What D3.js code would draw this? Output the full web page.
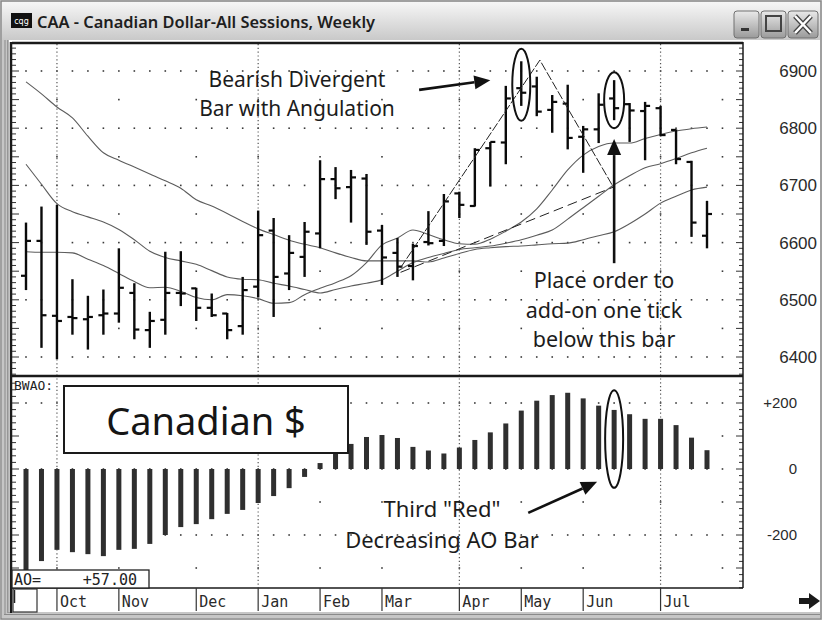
<!DOCTYPE html>
<html>
<head>
<meta charset="utf-8">
<script src="https://cdn.jsdelivr.net/npm/d3@7"></script>
<style>
  body { margin: 0; background: #fff; }
  svg { display: block; }
</style>
</head>
<body>
<div id="chart"></div>
<script>
// weekly OHLC (45 weeks, Sep .. Jul)
var openP  = [6542,6603,6472,6470,6466,6473,6476,6512,6447,6465,6512,6520,6486,6476,6454,6523,6621,6546,6575,6616,6711,6697,6712,6621,6582,6559,6601,6603,6686,6664,6765,6775,6870,6873,6832,6843,6785,6798,6852,6842,6830,6835,6797,6741,6612];
var highP  = [6635,6663,6666,6536,6507,6518,6590,6529,6479,6584,6585,6521,6511,6477,6540,6656,6643,6613,6636,6744,6732,6727,6720,6631,6608,6598,6655,6685,6689,6765,6776,6874,6917,6890,6858,6876,6804,6861,6884,6844,6846,6839,6798,6743,6673];
var lowP   = [6517,6416,6396,6439,6413,6439,6460,6431,6416,6439,6489,6463,6470,6431,6439,6504,6470,6517,6540,6590,6676,6635,6596,6526,6540,6534,6595,6594,6643,6663,6698,6737,6839,6821,6792,6763,6722,6774,6814,6776,6744,6786,6737,6610,6590];
var closeP = [6603,6473,6463,6468,6470,6476,6521,6448,6463,6512,6511,6486,6473,6447,6517,6613,6540,6582,6619,6711,6695,6714,6619,6574,6558,6594,6599,6672,6666,6762,6776,6852,6862,6829,6846,6783,6798,6841,6835,6831,6839,6788,6746,6635,6650];

// alligator lines
var jaw   = [6881,6860,6837,6818,6786,6757,6744,6732,6720,6708,6695,6675,6664,6651,6637,6624,6614,6604,6597,6591,6582,6574,6568,6568,6568,6568,6566,6573,6581,6588,6591,6593,6594,6596,6598,6599,6605,6612,6619,6633,6650,6669,6681,6692,6697];
var teeth = [6737,6702,6668,6654,6645,6636,6623,6605,6585,6574,6568,6562,6551,6540,6536,6535,6529,6524,6518,6512,6518,6524,6529,6535,6550,6565,6574,6581,6588,6591,6594,6599,6605,6613,6622,6641,6661,6681,6701,6717,6731,6738,6747,6757,6765];
var lips  = [6584,6583,6583,6582,6571,6560,6546,6532,6521,6522,6515,6504,6500,6509,6507,6502,6494,6495,6509,6520,6530,6542,6565,6596,6608,6622,6614,6605,6598,6597,6606,6620,6636,6659,6692,6727,6753,6768,6774,6774,6782,6789,6795,6799,6802];

// awesome oscillator
var aoValues = [-330,-279,-245,-252,-258,-264,-245,-242,-227,-200,-176,-167,-152,-136,-124,-103,-82,-58,-24,18,52,76,97,103,94,67,56,47,65,88,111,138,177,207,224,231,214,192,179,166,152,152,133,95,57];

var monthLabels = ["Oct","Nov","Dec","Jan","Feb","Mar","Apr","May","Jun","Jul"];
var monthWeeks  = [2,6,11,15,19,23,28,32,36,41];
var quarterMonths = ["Oct","Jan","Apr","Jul"];

var priceTicks = [6400,6500,6600,6700,6800,6900];
var priceHalfTicks = [6450,6550,6650,6750,6850];
var aoTicks = [200,0,-200];
var aoTickLabels = ["+200","0","-200"];
var aoHalfTicks = [100,-100,-300];

var W = 822, H = 620;
var left = 12, right = 743,
    pTop = 44, pBottom = 375,
    aTop = 377, aBottom = 588;

var svg = d3.select("#chart").append("svg")
            .attr("width", W)
            .attr("height", H)
            .style("font-family", "'Noto Sans', 'DejaVu Sans', sans-serif");

var defs = svg.append("defs");
var tg = defs.append("linearGradient").attr("id","titleGrad")
             .attr("x1",0).attr("y1",0).attr("x2",0).attr("y2",1);
tg.append("stop").attr("offset","0%").attr("stop-color","#f6f6f6");
tg.append("stop").attr("offset","100%").attr("stop-color","#c9c9c9");
var bg = defs.append("linearGradient").attr("id","btnGrad")
             .attr("x1",0).attr("y1",0).attr("x2",0).attr("y2",1);
bg.append("stop").attr("offset","0%").attr("stop-color","#e9e9e9");
bg.append("stop").attr("offset","100%").attr("stop-color","#9a9a9a");

defs.append("clipPath").attr("id","clipPrice")
    .append("rect").attr("x",left).attr("y",pTop).attr("width",right-left).attr("height",pBottom-pTop);
defs.append("clipPath").attr("id","clipAO")
    .append("rect").attr("x",left).attr("y",aTop).attr("width",right-left).attr("height",aBottom-aTop);

// ---- window chrome ----
svg.append("rect").attr("width",W).attr("height",H).attr("fill","#c6c6c6");
svg.append("rect").attr("x",1).attr("y",1).attr("width",W-2).attr("height",H-2)
   .attr("fill","none").attr("stroke","#7a7a7a");
svg.append("rect").attr("x",2).attr("y",2).attr("width",W-4).attr("height",38).attr("fill","url(#titleGrad)");
svg.append("rect").attr("x",8).attr("y",40).attr("width",W-10).attr("height",572).attr("fill","#fff");
svg.append("line").attr("x1",5).attr("x2",5).attr("y1",40).attr("y2",614).attr("stroke","#8a8a8a");
svg.append("line").attr("x1",4).attr("x2",W-2).attr("y1",614.5).attr("y2",614.5).attr("stroke","#8a8a8a");

// title icon + text
svg.append("rect").attr("x",11).attr("y",13).attr("width",21).attr("height",15).attr("fill","#111");
svg.append("text").attr("x",21.5).attr("y",24).attr("text-anchor","middle")
   .attr("fill","#fff").style("font-size","8px").style("font-family","'DejaVu Sans', sans-serif").text("cqg");
svg.append("text").attr("x",37).attr("y",28)
   .attr("fill","#1e1e1e").style("font-size","16.4px").style("font-weight","600")
   .text("CAA - Canadian Dollar-All Sessions, Weekly");

// window buttons
var buttons = [{x:734, w:25}, {x:761, w:25}, {x:788, w:30}];
svg.selectAll("rect.btn").data(buttons).enter().append("rect")
   .attr("class","btn")
   .attr("x", function(d){ return d.x; }).attr("y", 11)
   .attr("width", function(d){ return d.w; }).attr("height", 27)
   .attr("rx", 3).attr("fill","url(#btnGrad)").attr("stroke","#707070");
svg.append("rect").attr("x",741).attr("y",28).attr("width",8).attr("height",3).attr("fill","#333");
svg.append("rect").attr("x",766).attr("y",16).attr("width",15).attr("height",15)
   .attr("fill","none").attr("stroke","#444").attr("stroke-width",2);
svg.append("path").attr("d","M795,16 L811,33 M811,16 L795,33")
   .attr("stroke","#444").attr("stroke-width",5);
svg.append("path").attr("d","M795,16 L811,33 M811,16 L795,33")
   .attr("stroke","#fff").attr("stroke-width",2.5);

// ---- scales ----
var x = d3.scaleLinear().domain([0,44]).range([26,707]);
var y = d3.scaleLinear().domain([6400,6900]).range([357,71]);
var yAO = d3.scaleLinear().domain([-200,200]).range([535,403]);

var cols = d3.range(46);   // grid dot columns, one per week slot

var quarterWeeks = monthWeeks.filter(function(w, i){ return quarterMonths.indexOf(monthLabels[i]) >= 0; });
var sparseCols = monthWeeks.concat([45]);

// ---- grid ----
var grid = svg.append("g").attr("fill","#3a3a3a");
function dotRow(levels, scale, columns){
  levels.forEach(function(v){
    grid.selectAll(null).data(columns).enter().append("rect")
        .attr("x", function(i){ return x(i) - 0.8; })
        .attr("y", scale(v) - 0.8)
        .attr("width", 1.6).attr("height", 1.6);
  });
}
dotRow(priceTicks, y, cols);
dotRow(priceHalfTicks, y, sparseCols);
dotRow(aoTicks, yAO, cols);
dotRow(aoHalfTicks, yAO, sparseCols);

svg.append("g").selectAll("line").data(quarterWeeks).enter().append("line")
   .attr("x1", function(w){ return x(w); }).attr("x2", function(w){ return x(w); })
   .attr("y1", pTop).attr("y2", aBottom)
   .attr("stroke","#555").attr("stroke-width",1.2).attr("stroke-dasharray","1.2,2.6");

// ---- axis tick marks on both edges ----
var ticks = svg.append("g").attr("stroke","#333").attr("stroke-width",1);
var pMinor = d3.range(6370, 6950, 10);
var aMinor = d3.range(-360, 280, 20);
[left, right].forEach(function(edge){
  var dir = edge === left ? 1 : -1;
  ticks.selectAll(null).data(pMinor).enter().append("line")
       .attr("x1", edge).attr("x2", function(v){ return edge + dir * (v % 50 === 0 ? 7 : 4); })
       .attr("y1", function(v){ return y(v); }).attr("y2", function(v){ return y(v); });
  ticks.selectAll(null).data(aMinor).enter().append("line")
       .attr("x1", edge).attr("x2", function(v){ return edge + dir * (v % 100 === 0 ? 7 : 4); })
       .attr("y1", function(v){ return yAO(v); }).attr("y2", function(v){ return yAO(v); });
});

// ---- price panel ----
var pricePanel = svg.append("g").attr("clip-path","url(#clipPrice)");

var maLine = d3.line()
               .x(function(d, i){ return x(i); })
               .y(function(d){ return y(d); })
               .curve(d3.curveMonotoneX);

pricePanel.selectAll("path.ma").data([jaw, teeth, lips]).enter().append("path")
          .attr("class","ma")
          .attr("d", maLine)
          .attr("fill","none").attr("stroke","#5c5c5c").attr("stroke-width",1.1);

var bars = openP.map(function(o, i){
  return {i: i, o: o, h: highP[i], l: lowP[i], c: closeP[i]};
});

var barG = pricePanel.selectAll("g.bar").data(bars).enter().append("g")
                     .attr("class","bar").attr("stroke","#0a0a0a");
barG.append("line")
    .attr("x1", function(d){ return x(d.i); }).attr("x2", function(d){ return x(d.i); })
    .attr("y1", function(d){ return y(d.h); }).attr("y2", function(d){ return y(d.l); })
    .attr("stroke-width", 2.4);
barG.append("line")
    .attr("x1", function(d){ return x(d.i) - 5; }).attr("x2", function(d){ return x(d.i); })
    .attr("y1", function(d){ return y(d.o); }).attr("y2", function(d){ return y(d.o); })
    .attr("stroke-width", 2.2);
barG.append("line")
    .attr("x1", function(d){ return x(d.i); }).attr("x2", function(d){ return x(d.i) + 5; })
    .attr("y1", function(d){ return y(d.c); }).attr("y2", function(d){ return y(d.c); })
    .attr("stroke-width", 2.2);

// angulation lines
var angStart = {w: 24.2, p: 6556}, angTop = {w: 33.2, p: 6919}, angEnd = {w: 37.95, p: 6697};
pricePanel.append("path")
   .attr("d", "M" + x(angStart.w) + "," + y(angStart.p) + "L" + x(angTop.w) + "," + y(angTop.p) +
              "L" + x(angEnd.w) + "," + y(angEnd.p))
   .attr("fill","none").attr("stroke","#222").attr("stroke-width",1).attr("stroke-dasharray","9,2");
pricePanel.append("path")
   .attr("d", "M" + x(angStart.w) + "," + y(angStart.p - 8) + "L" + x(angEnd.w) + "," + y(angEnd.p))
   .attr("fill","none").attr("stroke","#222").attr("stroke-width",1).attr("stroke-dasharray","10,5");

// ---- AO panel ----
var aoPanel = svg.append("g").attr("clip-path","url(#clipAO)");
aoPanel.selectAll("rect.ao").data(aoValues).enter().append("rect")
       .attr("class","ao")
       .attr("x", function(d, i){ return x(i) - 2.5; })
       .attr("width", 5)
       .attr("y", function(d){ return yAO(Math.max(d, 0)); })
       .attr("height", function(d){ return Math.abs(yAO(d) - yAO(0)); })
       .attr("fill","#2f2f2f");

// ---- frames ----
var frame = svg.append("g").attr("fill","none").attr("stroke","#1a1a1a");
frame.append("line").attr("x1",left).attr("x2",right).attr("y1",pTop - 1).attr("y2",pTop - 1).attr("stroke-width",2.5);
frame.append("line").attr("x1",left).attr("x2",right).attr("y1",376).attr("y2",376).attr("stroke-width",2.5);
frame.append("line").attr("x1",left).attr("x2",right).attr("y1",aBottom).attr("y2",aBottom).attr("stroke-width",1.5);
frame.append("line").attr("x1",right).attr("x2",right).attr("y1",pTop - 2).attr("y2",aBottom).attr("stroke-width",1.5);
frame.append("line").attr("x1",left - 1).attr("x2",left - 1).attr("y1",pTop - 2).attr("y2",613).attr("stroke-width",2.5);
frame.append("line").attr("x1",8).attr("x2",8).attr("y1",40).attr("y2",613).attr("stroke","#666").attr("stroke-width",1);

// ---- right axis labels ----
svg.append("g").selectAll("text").data(priceTicks).enter().append("text")
   .attr("x", 817).attr("y", function(d){ return y(d) + 6; })
   .attr("text-anchor","end").attr("fill","#2a2a2a")
   .style("font-family","'Liberation Sans', Arial, sans-serif").style("font-size","17px")
   .text(function(d){ return d; });
svg.append("g").selectAll("text").data(aoTicks).enter().append("text")
   .attr("x", 797).attr("y", function(d){ return yAO(d) + 5; })
   .attr("text-anchor","end").attr("fill","#2a2a2a")
   .style("font-family","'Liberation Sans', Arial, sans-serif").style("font-size","15px")
   .text(function(d, i){ return aoTickLabels[i]; });

// ---- month axis ----
var mono = "'DejaVu Sans Mono', 'Liberation Mono', monospace";
var monthG = svg.append("g");
monthG.selectAll("line").data(monthWeeks).enter().append("line")
      .attr("x1", function(w){ return x(w); }).attr("x2", function(w){ return x(w); })
      .attr("y1", aBottom).attr("y2", 611)
      .attr("stroke","#333").attr("stroke-width",1.2);
monthG.selectAll("text").data(monthLabels).enter().append("text")
      .attr("x", function(d, i){ return x(monthWeeks[i]) + 3; })
      .attr("y", 607)
      .attr("fill","#2a2a2a")
      .style("font-family", mono).style("font-size","15px")
      .text(function(d){ return d; });
svg.append("rect").attr("x",13).attr("y",589).attr("width",24).attr("height",23)
   .attr("fill","#fff").attr("stroke","#333").attr("stroke-width",1.2);
svg.append("line").attr("x1",14.5).attr("x2",14.5).attr("y1",590).attr("y2",603)
   .attr("stroke","#222").attr("stroke-width",1.5);
svg.append("path").attr("d","M799,598 L809,598 L809,593 L820,601 L809,609 L809,604 L799,604 Z")
   .attr("fill","#1a1a1a");

// ---- AO panel labels ----
svg.append("text").attr("x",14).attr("y",390).attr("fill","#222")
   .style("font-family", mono).style("font-size","13px").text("BWAO:");
svg.append("rect").attr("x",left).attr("y",570).attr("width",137).attr("height",18)
   .attr("fill","#fff").attr("stroke","#222").attr("stroke-width",1.3);
svg.append("text").attr("x",14).attr("y",585).attr("fill","#222")
   .style("font-family", mono).style("font-size","15px")
   .text("AO=");
svg.append("text").attr("x",137).attr("y",585).attr("text-anchor","end").attr("fill","#222")
   .style("font-family", mono).style("font-size","15px")
   .text("+" + aoValues[aoValues.length - 1].toFixed(2));

svg.append("rect").attr("x",64).attr("y",386).attr("width",284).attr("height",67)
   .attr("fill","#fff").attr("stroke","#1a1a1a").attr("stroke-width",2);
svg.append("text").attr("x",206).attr("y",435).attr("text-anchor","middle")
   .attr("fill","#151515").style("font-size","38px").text("Canadian $");

// ---- annotations ----
function note(lines, cx, baseline, step, size){
  var t = svg.append("text").attr("text-anchor","middle").attr("fill","#1c1c1c").style("font-size", size + "px");
  lines.forEach(function(s, k){
    t.append("tspan").attr("x", cx).attr("y", baseline + k * step).text(s);
  });
}
note(["Bearish Divergent", "Bar with Angulation"], 297, 87, 28.5, 21);
note(["Place order to", "add-on one tick", "below this bar"], 604, 288, 29.5, 21.5);
note(["Third \"Red\"", "Decreasing AO Bar"], 442, 517, 31, 22);

function arrow(x1, y1, x2, y2){
  var a = Math.atan2(y2 - y1, x2 - x1), len = 16, half = 7;
  var bx = x2 - len * Math.cos(a), by = y2 - len * Math.sin(a);
  svg.append("line").attr("x1",x1).attr("y1",y1).attr("x2",bx).attr("y2",by)
     .attr("stroke","#111").attr("stroke-width",2.6);
  svg.append("path")
     .attr("d", "M" + x2 + "," + y2 +
                "L" + (bx + half * Math.sin(a)) + "," + (by - half * Math.cos(a)) +
                "L" + (bx - half * Math.sin(a)) + "," + (by + half * Math.cos(a)) + "Z")
     .attr("fill","#111");
}
arrow(x(25.4), y(6867), x(30.0), y(6884));
arrow(x(38), y(6564), x(38), y(6781));
arrow(x(32.45), yAO(-133), x(36.9), yAO(-39));

var circles = [
  {cx: x(32), cy: y(6876), rx: 9, ry: y(6876 - 63) - y(6876)},
  {cx: x(38), cy: y(6849), rx: 10, ry: y(6849 - 49) - y(6849)},
  {cx: x(38), cy: yAO(91), rx: 9, ry: yAO(91 - 148) - yAO(91)}
];
svg.selectAll("ellipse").data(circles).enter().append("ellipse")
   .attr("cx", function(d){ return d.cx; }).attr("cy", function(d){ return d.cy; })
   .attr("rx", function(d){ return d.rx; }).attr("ry", function(d){ return d.ry; })
   .attr("fill","none").attr("stroke","#111").attr("stroke-width",2);
</script>
</body>
</html>
